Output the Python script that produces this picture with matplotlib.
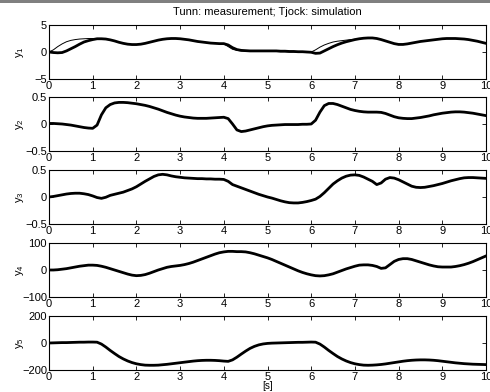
import numpy as np
import matplotlib
matplotlib.use("Agg")
import matplotlib.pyplot as plt
from matplotlib.ticker import FuncFormatter
from matplotlib.patches import Rectangle

plt.rcParams['font.family'] = ['Liberation Sans', 'DejaVu Sans']
plt.rcParams['mathtext.fontset'] = 'custom'
plt.rcParams['mathtext.rm'] = 'Liberation Sans'
plt.rcParams['mathtext.it'] = 'Liberation Sans'
plt.rcParams['mathtext.default'] = 'regular'

# ---------------- data ----------------
t = np.round(np.arange(0, 10.0001, 0.1), 1)

y1_sim = [0.0, -0.1, -0.15, -0.1, 0.2, 0.6, 1.0, 1.45, 1.85, 2.1,
          2.3, 2.45, 2.45, 2.4, 2.25, 2.05, 1.8, 1.6, 1.45, 1.38,
          1.38, 1.45, 1.6, 1.8, 2.0, 2.2, 2.35, 2.45, 2.5, 2.5,
          2.45, 2.35, 2.25, 2.1, 1.95, 1.85, 1.75, 1.65, 1.6, 1.55,
          1.55, 1.3, 0.8, 0.45, 0.3, 0.25, 0.2, 0.2, 0.2, 0.2,
          0.2, 0.2, 0.2, 0.15, 0.15, 0.1, 0.1, 0.05, 0.05, 0.0,
          -0.05, -0.25, -0.2, 0.2, 0.6, 1.0, 1.35, 1.65, 1.9, 2.1,
          2.3, 2.45, 2.55, 2.6, 2.6, 2.5, 2.3, 2.05, 1.8, 1.55,
          1.4, 1.4, 1.5, 1.65, 1.8, 1.95, 2.05, 2.15, 2.25, 2.35,
          2.45, 2.5, 2.5, 2.5, 2.45, 2.4, 2.3, 2.15, 2.0, 1.8,
          1.6]

y1_meas = [0.0, 0.4, 1.0, 1.5, 1.9, 2.15, 2.3, 2.4, 2.45, 2.5,
           2.5, 2.5, 2.45, 2.4, 2.25, 2.05, 1.8, 1.6, 1.45, 1.38,
           1.38, 1.45, 1.6, 1.8, 2.0, 2.2, 2.35, 2.45, 2.5, 2.5,
           2.45, 2.35, 2.25, 2.1, 1.95, 1.85, 1.75, 1.65, 1.6, 1.55,
           1.5, 1.0, 0.5, 0.3, 0.2, 0.15, 0.12, 0.1, 0.1, 0.1,
           0.1, 0.1, 0.1, 0.05, 0.05, 0.0, 0.0, -0.05, -0.05, -0.1,
           0.0, 0.4, 0.9, 1.3, 1.6, 1.85, 2.0, 2.1, 2.2, 2.3,
           2.35, 2.45, 2.55, 2.6, 2.6, 2.5, 2.3, 2.05, 1.8, 1.55,
           1.4, 1.4, 1.5, 1.65, 1.8, 1.95, 2.05, 2.15, 2.25, 2.35,
           2.45, 2.5, 2.5, 2.5, 2.45, 2.4, 2.3, 2.15, 2.0, 1.8,
           1.6]

y2 = [0.01, 0.01, 0.005, 0.0, -0.01, -0.02, -0.035, -0.05, -0.065, -0.075,
      -0.08, -0.02, 0.17, 0.3, 0.36, 0.39, 0.40, 0.40, 0.395, 0.385,
      0.375, 0.36, 0.345, 0.325, 0.3, 0.275, 0.245, 0.215, 0.19, 0.165,
      0.145, 0.13, 0.12, 0.11, 0.105, 0.105, 0.105, 0.11, 0.115, 0.12,
      0.125, 0.1, 0.0, -0.11, -0.14, -0.13, -0.11, -0.09, -0.07, -0.05,
      -0.035, -0.025, -0.02, -0.015, -0.01, -0.01, -0.01, -0.01, -0.005, -0.005,
      0.0, 0.07, 0.22, 0.34, 0.38, 0.38, 0.36, 0.33, 0.3, 0.27,
      0.25, 0.235, 0.225, 0.22, 0.22, 0.22, 0.215, 0.195, 0.165, 0.135,
      0.115, 0.105, 0.1, 0.1, 0.11, 0.12, 0.135, 0.15, 0.17, 0.185,
      0.2, 0.21, 0.22, 0.225, 0.225, 0.22, 0.21, 0.2, 0.185, 0.17,
      0.155]

y3 = [0.0, 0.01, 0.025, 0.04, 0.055, 0.065, 0.07, 0.07, 0.06, 0.045,
      0.02, -0.01, -0.025, -0.005, 0.03, 0.05, 0.07, 0.09, 0.12, 0.15,
      0.19, 0.24, 0.29, 0.335, 0.38, 0.41, 0.42, 0.41, 0.39, 0.375,
      0.365, 0.355, 0.35, 0.345, 0.34, 0.34, 0.335, 0.335, 0.33, 0.33,
      0.325, 0.29, 0.23, 0.2, 0.17, 0.14, 0.11, 0.08, 0.05, 0.025,
      0.0, -0.02, -0.045, -0.07, -0.09, -0.105, -0.11, -0.11, -0.1, -0.085,
      -0.065, -0.04, 0.01, 0.08, 0.16, 0.24, 0.3, 0.35, 0.385, 0.405,
      0.41, 0.4, 0.37, 0.33, 0.29, 0.23, 0.26, 0.33, 0.36, 0.35,
      0.32, 0.28, 0.24, 0.2, 0.18, 0.175, 0.18, 0.195, 0.21, 0.23,
      0.25, 0.275, 0.3, 0.32, 0.34, 0.355, 0.36, 0.36, 0.355, 0.35,
      0.345]

y4 = [0, 0, 1, 3, 5, 8, 11, 14, 16, 18,
      18, 17, 14, 10, 5, 0, -5, -10, -15, -19,
      -21, -20, -17, -12, -6, 0, 5, 10, 13, 15,
      17, 20, 24, 29, 35, 41, 47, 53, 59, 64,
      67, 69, 69, 68, 68, 67, 64, 60, 55, 50,
      45, 39, 32, 25, 18, 11, 4, -3, -9, -14,
      -18, -21, -22, -21, -18, -14, -8, -2, 4, 9,
      14, 18, 19, 19, 17, 13, 6, 8, 20, 32,
      39, 42, 42, 39, 34, 29, 24, 19, 15, 12,
      11, 11, 11, 13, 16, 20, 25, 31, 38, 45,
      52]

y5 = [0, 1, 2, 3, 3, 4, 5, 6, 6, 7,
      7, 6, -8, -30, -55, -78, -100, -118, -133, -145,
      -154, -160, -164, -165, -165, -164, -161, -158, -154, -150,
      -146, -142, -138, -134, -131, -129, -128, -128, -129, -131,
      -134, -136, -125, -105, -82, -60, -40, -25, -14, -7,
      -3, -1, 0, 1, 2, 3, 4, 5, 5, 6,
      7, 6, -8, -30, -55, -78, -100, -118, -133, -145,
      -154, -160, -164, -165, -164, -162, -159, -155, -150, -145,
      -140, -135, -131, -128, -126, -125, -125, -126, -128, -131,
      -135, -139, -143, -147, -150, -153, -155, -157, -158, -159,
      -160]

ylabels = ["y$_1$", "y$_2$", "y$_3$", "y$_4$", "y$_5$"]
ylims = [(-5, 5), (-0.5, 0.5), (-0.5, 0.5), (-100, 100), (-200, 200)]
xticks = [0, 1, 2, 3, 4, 5, 6, 7, 8, 9, 10]
title = "Tunn: measurement; Tjock: simulation"
xlabel = "[s]"

# ---------------- figure ----------------
W, H = 490, 392
fig = plt.figure(figsize=(W / 100, H / 100), dpi=100)
fig.patch.set_facecolor('white')
fig.patches.append(Rectangle((0, 1 - 3 / H), 1, 3 / H, transform=fig.transFigure,
                             facecolor='#808080', edgecolor='none', zorder=0))

left_px, right_px = 49, 486
panels_px = [(25, 79), (97, 151), (170, 224), (243, 297), (316, 370)]

fmt = FuncFormatter(lambda v, p: f"{v:g}".replace('-', '\u2212'))

FS = 8
sim_series = [y1_sim, y2, y3, y4, y5]
axes = []
for i, (top, bot) in enumerate(panels_px):
    ax = fig.add_axes([left_px / W, 1 - bot / H, (right_px - left_px) / W, (bot - top) / H])
    axes.append(ax)
    if i == 0:
        ax.plot(t, y1_meas, color='black', lw=0.7)
    ax.plot(t, sim_series[i], color='black', lw=2.0, solid_joinstyle='round')
    ax.set_xlim(0, 10)
    ax.set_ylim(*ylims[i])
    lo, hi = ylims[i]
    ax.set_yticks([lo, 0, hi])
    ax.set_xticks(xticks)
    ax.yaxis.set_major_formatter(fmt)
    ax.xaxis.set_major_formatter(fmt)
    ax.tick_params(direction='in', length=3, width=0.6, top=True, right=True,
                   labelsize=FS, pad=1.5, colors='black')
    for s in ax.spines.values():
        s.set_linewidth(0.8)
    ax.set_ylabel(ylabels[i], fontsize=FS)
    ax.yaxis.set_label_coords(-0.052, 0.5)

fig.text((left_px + right_px) / 2 / W, 1 - 12 / H, title, ha='center', va='center', fontsize=FS)
axes[-1].set_xlabel(xlabel, fontsize=FS - 1, labelpad=-1)

fig.savefig("out.png", dpi=100)
